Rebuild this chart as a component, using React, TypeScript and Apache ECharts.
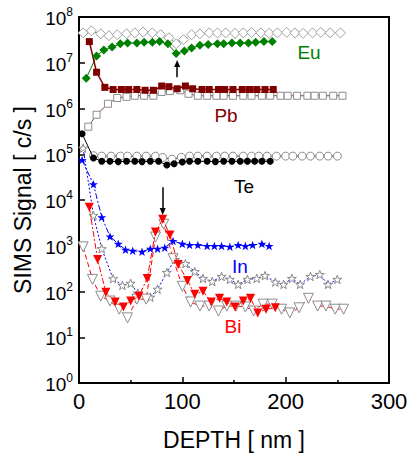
import React, { useEffect, useRef } from 'react';
import * as echarts from 'echarts';

const FONT = '"Liberation Sans", Arial, Helvetica, sans-serif';

// x-axis ticks and y-axis decades
const xTicks = [0, 100, 200, 300];
const yDecades = [0, 1, 2, 3, 4, 5, 6, 7, 8];

// Eu
const euOpenX = [4, 12, 21, 29, 37, 46, 54, 62, 71, 79, 87, 94, 101, 109, 117, 126, 134, 142, 151, 159, 167, 176, 184, 192, 201, 209, 217, 226, 234, 243, 253];
const euOpenY = [4.5e7, 5.0e7, 4.3e7, 3.9e7, 4.1e7, 4.3e7, 4.5e7, 4.7e7, 4.5e7, 4.1e7, 3.5e7, 2.6e7, 3.2e7, 4.1e7, 4.3e7, 4.5e7, 4.5e7, 4.5e7, 4.4e7, 4.5e7, 4.6e7, 4.5e7, 4.4e7, 4.5e7, 4.6e7, 4.5e7, 4.4e7, 4.5e7, 4.6e7, 4.5e7, 4.5e7];
const euX = [7, 17, 24, 32, 40, 47, 56, 63, 71, 78, 86, 94, 102, 109, 117, 125, 134, 140, 148, 156, 164, 171, 179, 187];
const euY = [4.6e6, 1.4e7, 1.9e7, 2.2e7, 2.6e7, 2.7e7, 2.7e7, 2.8e7, 2.8e7, 2.9e7, 2.6e7, 1.6e7, 1.8e7, 2.1e7, 2.4e7, 2.5e7, 2.6e7, 2.6e7, 2.7e7, 2.7e7, 2.7e7, 2.8e7, 2.9e7, 2.9e7];

// Pb
const pbX = [10, 17, 25, 33, 41, 48, 56, 64, 72, 80, 87, 95, 103, 110, 119, 126, 135, 141, 149, 158, 165, 172, 180, 188];
const pbY = [2.9e7, 6.2e6, 2.9e6, 2.6e6, 2.6e6, 2.6e6, 2.6e6, 2.5e6, 2.5e6, 3.1e6, 3.0e6, 2.7e6, 3.1e6, 2.7e6, 2.6e6, 2.6e6, 2.6e6, 2.6e6, 2.6e6, 2.6e6, 2.6e6, 2.6e6, 2.6e6, 2.6e6];
const pbOpenX = [9, 17, 28, 37, 46, 54, 63, 72, 80, 88, 98, 106, 115, 124, 133, 140, 149, 159, 167, 177, 185, 195, 202, 211, 221, 228, 236, 246, 255];
const pbOpenY = [4.0e5, 7.3e5, 1.27e6, 1.7e6, 1.8e6, 1.9e6, 1.9e6, 1.9e6, 2.3e6, 2.4e6, 2.5e6, 2.1e6, 1.9e6, 1.9e6, 1.9e6, 1.9e6, 1.9e6, 1.9e6, 1.9e6, 1.9e6, 1.9e6, 1.9e6, 1.9e6, 1.9e6, 1.9e6, 1.9e6, 1.9e6, 1.9e6, 1.9e6];

// Te
const teX = [3, 14, 22, 30, 38, 46, 54, 61, 69, 77, 85, 92, 100, 107, 115, 124, 132, 140, 148, 156, 163, 170, 177, 185];
const teY = [2.8e5, 8.3e4, 7.0e4, 7.0e4, 6.9e4, 7.0e4, 7.0e4, 6.9e4, 7.0e4, 7.0e4, 5.8e4, 6.2e4, 6.8e4, 7.0e4, 7.0e4, 7.0e4, 6.9e4, 7.0e4, 7.0e4, 7.0e4, 7.0e4, 7.0e4, 7.0e4, 7.0e4];
const teOpenX = [14, 22, 31, 40, 47, 56, 65, 74, 81, 90, 99, 107, 115, 124, 133, 141, 149, 159, 167, 174, 182, 191, 200, 207, 216, 224, 233, 241, 250];
const teOpenY = [9.3e4, 9.1e4, 9.1e4, 9.1e4, 9.1e4, 9.1e4, 9.1e4, 9.1e4, 8.5e4, 7.8e4, 8.6e4, 9.1e4, 9.1e4, 9.1e4, 9.1e4, 9.1e4, 9.1e4, 9.1e4, 9.1e4, 9.1e4, 9.1e4, 9.1e4, 9.1e4, 9.1e4, 9.1e4, 9.1e4, 9.1e4, 9.1e4, 9.1e4];

// In
const inX = [3, 14, 22, 30, 38, 45, 52, 61, 69, 76, 83, 91, 100, 107, 115, 124, 131, 138, 146, 154, 161, 168, 177, 184];
const inY = [7.5e4, 2.2e4, 4.2e3, 1.6e3, 1.1e3, 820, 780, 740, 860, 860, 900, 1270, 1100, 1040, 1040, 990, 990, 990, 950, 1040, 990, 1040, 1100, 990];
const inOpenX = [4, 14, 22, 33, 42, 50, 57, 69, 76, 85, 93, 103, 112, 120, 129, 138, 146, 154, 163, 172, 180, 190, 198, 206, 214, 224, 233, 241, 250];
const inOpenY = [1.36e5, 4.6e3, 860, 190, 136, 151, 92, 75, 112, 260, 500, 406, 273, 193, 166, 213, 184, 143, 184, 193, 222, 160, 143, 193, 143, 213, 235, 143, 184];

// Bi
const biX = [10, 18, 26, 35, 43, 50, 58, 66, 74, 81, 88, 96, 105, 112, 120, 128, 136, 143, 151, 159, 166, 173, 181, 190];
const biY = [6900, 500, 96, 59, 46, 62, 79, 193, 2000, 3800, 1710, 390, 175, 87, 101, 59, 71, 59, 46, 62, 71, 34, 41, 44];
const biOpenX = [4, 13, 21, 30, 39, 47, 56, 65, 74, 82, 91, 100, 108, 117, 126, 135, 143, 152, 161, 169, 178, 187, 196, 204, 213, 222, 231, 239, 248, 256];
const biOpenY = [946, 184, 79, 62, 41, 26.5, 68, 68, 1550, 2960, 521, 130, 59, 48, 48, 37.5, 48, 48, 46, 37.5, 53, 53, 41, 34, 44, 71, 48, 48, 41, 41];

// element labels
const elementNames = ['Eu', 'Pb', 'Te', 'In', 'Bi'];
const elementColors = ['#008000', '#800000', '#000000', '#0000ff', '#ff0000'];

const STAR = 'path://M12,0 L14.9,8.3 L23.6,8.3 L16.6,13.5 L19.3,21.9 L12,16.8 L4.7,21.9 L7.4,13.5 L0.4,8.3 L9.1,8.3 Z';

function zip(xs: number[], ys: number[]) {
  return xs.map((x, i) => [x, ys[i]]);
}

function mk(name: string, xs: number[], ys: number[], o: any) {
  return {
    name,
    type: 'line',
    data: zip(xs, ys),
    symbol: o.symbol,
    symbolSize: o.size,
    symbolRotate: o.rotate || 0,
    symbolKeepAspect: true,
    showAllSymbol: true,
    z: o.z || 2,
    lineStyle: { color: o.lineColor, width: o.lineWidth || 1, type: o.lineType || 'solid' },
    itemStyle: o.open
      ? { color: '#ffffff', borderColor: o.border || '#8c8c8c', borderWidth: 1 }
      : { color: o.fill, borderWidth: 0 },
    emphasis: { disabled: true },
    markLine: o.markLine,
  };
}

export default function App() {
  const ref = useRef<HTMLDivElement>(null);
  useEffect(() => {
    if (!ref.current) return;
    const chart = echarts.init(ref.current, undefined, { renderer: 'svg' });
    const arrowLine = (x: number, y0: number, y1: number) => ({
      silent: true,
      symbol: ['none', 'triangle'],
      symbolSize: [6, 7],
      label: { show: false },
      lineStyle: { color: '#000', width: 1.5, type: 'solid' },
      emphasis: { disabled: true },
      data: [[{ coord: [x, y0] }, { coord: [x, y1] }]],
    });
    const series = [
      mk('Eu open', euOpenX, euOpenY, { symbol: 'diamond', size: 10, open: true, border: '#a0a0a0', lineColor: '#008000', lineType: [2, 2] }),
      mk('Pb open', pbOpenX, pbOpenY, { symbol: 'rect', size: 7, open: true, border: '#8c8c8c', lineColor: '#8b3a3a' }),
      mk('Te open', teOpenX, teOpenY, { symbol: 'circle', size: 8, open: true, border: '#8c8c8c', lineColor: '#333' }),
      mk('In open', inOpenX, inOpenY, { symbol: STAR, size: 9, open: true, border: '#888', lineColor: '#0000ff', lineType: [2, 2] }),
      mk('Bi open', biOpenX, biOpenY, { symbol: 'triangle', rotate: 180, size: 10, open: true, border: '#8c8c8c', lineColor: '#ff0000', lineType: [5, 3] }),
      mk('Eu', euX, euY, { symbol: 'diamond', size: 9, fill: '#008000', lineColor: '#008000', z: 3, markLine: arrowLine(95, 4.8e6, 9.6e6) }),
      mk('Pb', pbX, pbY, { symbol: 'rect', size: 7, fill: '#800000', lineColor: '#800000', lineWidth: 1.5, z: 3 }),
      mk('Te', teX, teY, { symbol: 'circle', size: 7, fill: '#000', lineColor: '#000', z: 3 }),
      mk('In', inX, inY, { symbol: STAR, size: 9, fill: '#0000ff', lineColor: '#0000ff', lineType: [6, 2, 2, 2], z: 3 }),
      mk('Bi', biX, biY, { symbol: 'triangle', rotate: 180, size: 9, fill: '#ff0000', lineColor: '#ff0000', lineType: [6, 2, 2, 2], z: 3, markLine: arrowLine(81, 1.9e4, 5.6e3) }),
    ];
    const labelPos = [[309, 52], [226, 115], [244, 186], [240, 266], [233, 326]];
    chart.setOption({
      animation: false,
      backgroundColor: '#fff',
      grid: { left: 79, right: 28, top: 17, bottom: 68, show: true, borderColor: '#000', borderWidth: 2, backgroundColor: 'transparent' },
      xAxis: {
        type: 'value', min: xTicks[0], max: xTicks[xTicks.length - 1], interval: 100,
        name: 'DEPTH [ nm ]', nameLocation: 'middle', nameGap: 45,
        nameTextStyle: { fontFamily: FONT, fontSize: 23, color: '#000' },
        axisLine: { show: true, lineStyle: { color: '#000', width: 2 } },
        axisTick: { show: true, inside: true, length: 6, lineStyle: { color: '#000', width: 1.5 } },
        minorTick: { show: true, splitNumber: 2, length: 3, lineStyle: { color: '#000', width: 1.5 } },
        splitLine: { show: false },
        axisLabel: { fontFamily: FONT, fontSize: 22, color: '#000', margin: 7 },
      },
      yAxis: {
        type: 'log', logBase: 10, min: Math.pow(10, yDecades[0]), max: Math.pow(10, yDecades[yDecades.length - 1]), splitNumber: 8,
        name: 'SIMS Signal [ c/s ]', nameLocation: 'middle', nameGap: 41, nameRotate: 90,
        nameTextStyle: { fontFamily: FONT, fontSize: 23, color: '#000' },
        axisLine: { show: true, lineStyle: { color: '#000', width: 2 } },
        axisTick: { show: true, inside: true, length: 6, lineStyle: { color: '#000', width: 1.5 } },
        splitLine: { show: false },
        axisLabel: {
          margin: 6,
          formatter: (v: number) => '{b|10}{s|' + Math.round(Math.log10(v)) + '}',
          rich: {
            b: { fontFamily: FONT, fontSize: 19, color: '#000', lineHeight: 22, verticalAlign: 'bottom' },
            s: { fontFamily: FONT, fontSize: 12, color: '#000', lineHeight: 12, verticalAlign: 'top' },
          },
        },
      },
      graphic: elementNames.map((n, i) => ({
        type: 'text', x: labelPos[i][0], y: labelPos[i][1], silent: true,
        style: { text: n, fill: elementColors[i], font: '19px ' + FONT, textAlign: 'center', textVerticalAlign: 'middle' },
      })),
      series,
    });
    return () => chart.dispose();
  }, []);
  return <div ref={ref} style={{ position: 'fixed', left: 0, top: 0, width: 417, height: 456, background: '#fff' }} />;
}
